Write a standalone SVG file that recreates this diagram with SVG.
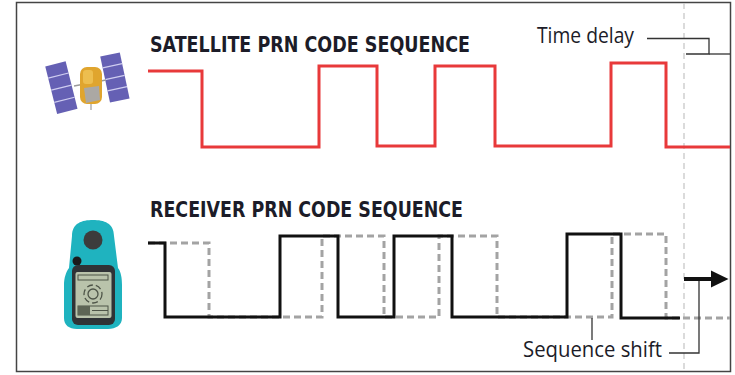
<svg xmlns="http://www.w3.org/2000/svg" width="735" height="375" viewBox="0 0 735 375">
  <style>
    .title { font-family: "DejaVu Sans Condensed", "DejaVu Sans", sans-serif; font-weight: bold; font-size: 22px; fill: #1c1c28; }
    .label { font-family: "Open Sans", "Liberation Sans", sans-serif; font-size: 21px; fill: #1c1c28; }
    .sat { fill: none; stroke: #e8393a; stroke-width: 3; stroke-linejoin: miter; }
    .rx { fill: none; stroke: #111; stroke-width: 3; stroke-linejoin: miter; }
    .rxshift { fill: none; stroke: #a3a3a3; stroke-width: 3; stroke-dasharray: 7 4; }
    .leader { fill: none; stroke: #333; stroke-width: 1.3; }
    .guide { fill: none; stroke: #c8c8c8; stroke-width: 1.3; stroke-dasharray: 6 4; }
    .panel { fill: #6560b4; }
    .stripe { stroke: #cfcdf0; stroke-width: 1.2; }
  </style>

  <rect x="0" y="0" width="735" height="375" fill="#ffffff"/>
  <!-- frame -->
  <rect x="16.5" y="2.5" width="714" height="369" fill="none" stroke="#444" stroke-width="1.5"/>

  <!-- time reference guide -->
  <line class="guide" x1="684" y1="3" x2="684" y2="371"/>

  <!-- satellite icon -->
  <g id="satellite">
    <g transform="rotate(-14 62 88)">
      <rect class="panel" x="51" y="63" width="21" height="49"/>
      <line class="stripe" x1="51" y1="75" x2="72" y2="75"/>
      <line class="stripe" x1="51" y1="87.5" x2="72" y2="87.5"/>
      <line class="stripe" x1="51" y1="100" x2="72" y2="100"/>
    </g>
    <g transform="rotate(-12 115 78)">
      <rect class="panel" x="105" y="54" width="20" height="47"/>
      <line class="stripe" x1="105" y1="65.5" x2="125" y2="65.5"/>
      <line class="stripe" x1="105" y1="77.5" x2="125" y2="77.5"/>
      <line class="stripe" x1="105" y1="89" x2="125" y2="89"/>
    </g>
    <line x1="74" y1="86" x2="106" y2="80" stroke="#9a9a9a" stroke-width="1.5"/>
    <rect x="80" y="67" width="22" height="37" rx="7" fill="#e0a52e"/>
    <rect x="83" y="70" width="10" height="14" rx="3" fill="#f0c458" opacity="0.8"/>
    <path d="M84,88 L99,86 L100,100 L86,103 z" fill="#aba8a4"/>
    <line x1="91" y1="104" x2="91" y2="110" stroke="#b0b0b0" stroke-width="1.5"/>
  </g>

  <!-- handheld receiver icon -->
  <g id="receiver">
    <path d="M72,236 C72,223 82,220 93,220 C104,220 114,223 114,236 L118,268 C121,272 122,278 122,285 L122,318 C122,325 116,329 108,329 L77,329 C69,329 64,325 64,318 L64,285 C64,278 66,272 69,268 z" fill="#1fb3bf"/>
    <circle cx="93" cy="240" r="9.5" fill="#3c3c3c"/>
    <circle cx="77" cy="261" r="4.5" fill="#1a1a1a"/>
    <rect x="72" y="265" width="43" height="60" rx="6" fill="#2f3336"/>
    <rect x="75.5" y="272" width="36" height="46" rx="2" fill="#b9c3ab"/>
    <rect x="78" y="275" width="30" height="5" fill="none" stroke="#4d5447" stroke-width="1"/>
    <circle cx="93" cy="294" r="5" fill="none" stroke="#4d5447" stroke-width="1.3"/>
    <circle cx="93" cy="294" r="9" fill="none" stroke="#4d5447" stroke-width="1.3" stroke-dasharray="6 3"/>
    <rect x="78" y="306" width="30" height="9" fill="none" stroke="#4d5447" stroke-width="1"/>
    <rect x="78" y="306" width="12" height="9" fill="#5d6555"/>
    <line x1="92" y1="310.5" x2="108" y2="310.5" stroke="#4d5447" stroke-width="1"/>
  </g>

  <!-- titles -->
  <g id="satellite-title">
    <text class="title" x="150" y="52" textLength="320" lengthAdjust="spacingAndGlyphs">SATELLITE PRN CODE SEQUENCE</text>
  </g>
  <g id="receiver-title">
    <text class="title" x="150" y="217" textLength="313" lengthAdjust="spacingAndGlyphs">RECEIVER PRN CODE SEQUENCE</text>
  </g>

  <!-- code sequences -->
  <g id="satellite-code">
    <polyline class="sat" points="148,71 202,71 202,147 319,147 319,66 377,66 377,146 435,146 435,66 495,66 495,146 611,146 611,63 666,63 666,147 730,147"/>
  </g>
  <g id="receiver-code-shifted">
    <polyline class="rxshift" points="148,243 209,243 209,317 322,317 322,236 384,236 384,317 439,317 439,236 497,236 497,317 612,317 612,234 666,234 666,318 730,318"/>
  </g>
  <g id="receiver-code">
    <polyline class="rx" points="148,243 165,243 165,317 280,317 280,236 338,236 338,317 394,317 394,236 452,236 452,317 567,317 567,234 621,234 621,318 680,318"/>
  </g>

  <!-- labels -->
  <g id="time-delay">
    <text class="label" x="537" y="43" textLength="97" lengthAdjust="spacingAndGlyphs">Time delay</text>
  </g>
  <g id="sequence-shift">
    <text class="label" x="523" y="357" textLength="139" lengthAdjust="spacingAndGlyphs">Sequence shift</text>
  </g>

  <g id="connectors">
    <polyline class="leader" points="647,38.5 709,38.5 709,54 686,54"/>
    <line class="leader" x1="709" y1="54" x2="730" y2="54"/>
    <line class="leader" x1="592" y1="318" x2="592" y2="340"/>
    <polyline class="leader" points="669,353 699,353 699,281"/>
    <line x1="684" y1="279" x2="713" y2="279" stroke="#111" stroke-width="4"/>
    <polygon points="711,270.5 728.5,279 711,287.5" fill="#111"/>
  </g>
</svg>
